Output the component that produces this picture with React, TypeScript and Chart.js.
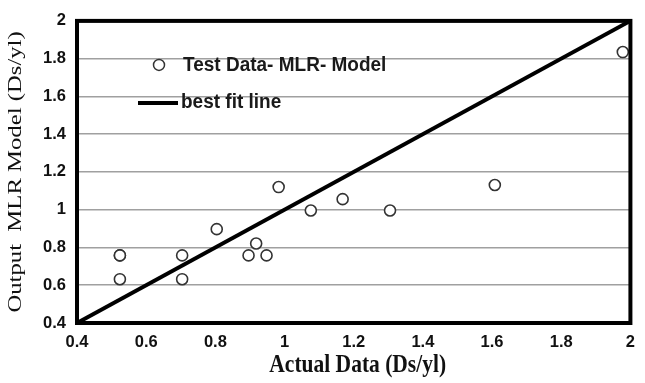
import React, { useEffect, useRef } from "react";
import { Chart, registerables } from "chart.js";

Chart.register(...registerables);

const testX = [0.524, 0.524, 0.524, 0.704, 0.704, 0.804, 0.896, 0.918, 0.948, 0.983, 1.076, 1.168, 1.305, 1.608, 1.978];
const testY = [0.758, 0.758, 0.632, 0.758, 0.632, 0.897, 0.758, 0.821, 0.758, 1.12, 0.996, 1.056, 0.996, 1.131, 1.835];
const fitX = [0.4, 2.0];
const fitY = [0.4, 2.0];
const tickValues = [0.4, 0.6, 0.8, 1, 1.2, 1.4, 1.6, 1.8, 2];
const legendLabels = ["Test Data- MLR- Model", "best fit line"];
const xTitle = "Actual Data (Ds/yl)";
const yTitle = "Output  MLR Model (Ds/yl)";

const tickFont = { family: "Liberation Sans", size: 16.5, weight: "bold" as const };

const fmt = (v: number) => (Math.abs(v - Math.round(v)) < 1e-9 ? String(Math.round(v)) : v.toFixed(1));

const framePlugin = {
  id: "frameAndLegend",
  afterDatasetsDraw(chart: any) {
    const { ctx, chartArea } = chart;
    const { left, top, right, bottom } = chartArea;
    ctx.save();
    // legend
    ctx.beginPath();
    ctx.arc(left + 82, top + 44, 5.5, 0, Math.PI * 2);
    ctx.fillStyle = "#fff";
    ctx.fill();
    ctx.lineWidth = 1.5;
    ctx.strokeStyle = "#333";
    ctx.stroke();
    ctx.beginPath();
    ctx.moveTo(left + 61, top + 82);
    ctx.lineTo(left + 101, top + 82);
    ctx.lineWidth = 4;
    ctx.strokeStyle = "#000";
    ctx.stroke();
    ctx.font = "bold 19px 'Liberation Sans'";
    ctx.textBaseline = "middle";
    ctx.textAlign = "left";
    ctx.fillStyle = "#1a1a1a";
    ctx.save();
    ctx.translate(left + 106, top + 44);
    ctx.scale(1, 1.1);
    ctx.fillText(legendLabels[0], 0, 0);
    ctx.restore();
    ctx.save();
    ctx.translate(left + 104, top + 81);
    ctx.scale(1, 1.1);
    ctx.fillText(legendLabels[1], 0, 0);
    ctx.restore();
    // frame
    ctx.lineWidth = 4;
    ctx.strokeStyle = "#000";
    ctx.strokeRect(left, top, right - left, bottom - top);
    ctx.restore();

    // axis titles (stretched like the source figure)
    const cx = (left + right) / 2;
    const cy = (top + bottom) / 2;
    ctx.save();
    ctx.fillStyle = "#111";
    ctx.textAlign = "center";
    ctx.textBaseline = "middle";
    ctx.font = "bold 21.5px 'Liberation Serif'";
    ctx.translate(cx + 4, 365);
    ctx.scale(1, 1.2);
    ctx.fillText(xTitle, 0, 0);
    ctx.restore();

    ctx.save();
    ctx.fillStyle = "#111";
    ctx.textAlign = "center";
    ctx.textBaseline = "middle";
    ctx.font = "19px 'Liberation Serif'";
    ctx.translate(16, cy);
    ctx.scale(1, 1.3);
    ctx.rotate(-Math.PI / 2);
    ctx.fillText(yTitle, 0, 0);
    ctx.restore();
  },
};

export default function App() {
  const ref = useRef<HTMLCanvasElement>(null);
  useEffect(() => {
    document.body.style.margin = "0";
    const chart = new Chart(ref.current!, {
      type: "scatter",
      data: {
        datasets: [
          {
            label: legendLabels[0],
            data: testX.map((x, i) => ({ x, y: testY[i] })),
            pointRadius: 5.5,
            pointBorderWidth: 1.6,
            pointBorderColor: "#333",
            pointBackgroundColor: "#fff",
            showLine: false,
            order: 0,
          },
          {
            label: legendLabels[1],
            data: fitX.map((x, i) => ({ x, y: fitY[i] })),
            showLine: true,
            borderColor: "#000",
            borderWidth: 4,
            pointRadius: 0,
            order: 1,
          },
        ],
      },
      options: {
        animation: false,
        responsive: false,
        layout: { padding: { left: 0, right: 4, top: 15, bottom: 0 } },
        plugins: { legend: { display: false }, tooltip: { enabled: false } },
        scales: {
          x: {
            type: "linear",
            min: 0.4,
            max: 2,
            afterBuildTicks: (s: any) => {
              s.ticks = tickValues.map((v) => ({ value: v }));
            },
            afterFit: (s: any) => {
              s.height = 60;
            },
            grid: { display: false, drawTicks: false },
            border: { display: false },
            ticks: { font: tickFont, color: "#111", padding: 10, maxRotation: 0, autoSkip: false, callback: (v: any) => fmt(Number(v)) },
            title: { display: false, text: xTitle },
          },
          y: {
            type: "linear",
            min: 0.4,
            max: 2,
            afterBuildTicks: (s: any) => {
              s.ticks = tickValues.map((v) => ({ value: v }));
            },
            afterFit: (s: any) => {
              s.width = 77;
            },
            grid: { color: "#a0a0a0", lineWidth: 1.5, drawTicks: false },
            border: { display: false },
            ticks: { font: tickFont, color: "#111", padding: 11, autoSkip: false, callback: (v: any) => fmt(Number(v)) },
            title: { display: false, text: yTitle },
          },
        },
      },
      plugins: [framePlugin],
    });
    return () => chart.destroy();
  }, []);
  return (
    <div style={{ position: "fixed", left: 0, top: 0, width: 645, height: 383, background: "#fff" }}>
      <canvas ref={ref} width={645} height={383} style={{ width: 645, height: 383 }} />
    </div>
  );
}
